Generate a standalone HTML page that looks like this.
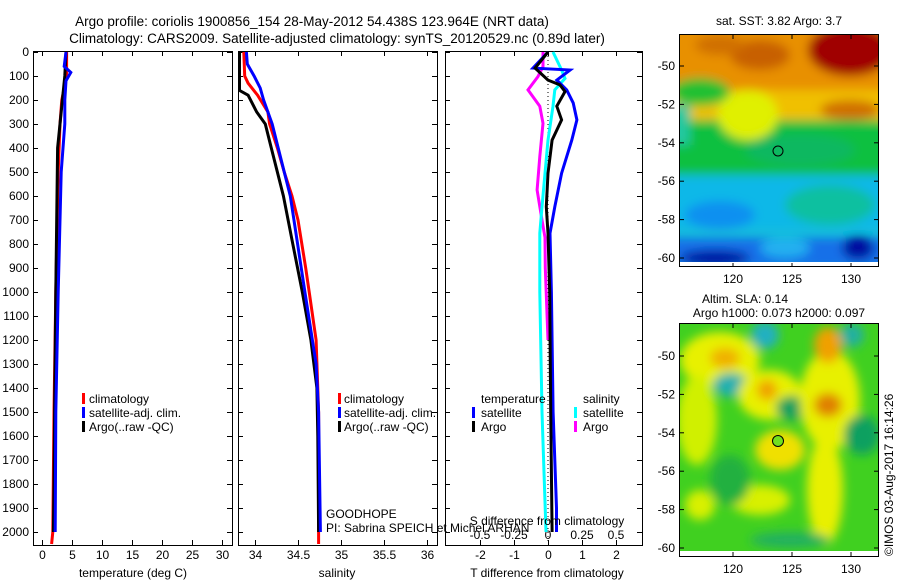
<!DOCTYPE html>
<html><head><meta charset="utf-8"><style>
body{margin:0;background:#fff}
svg{display:block;font-family:"Liberation Sans",sans-serif}
</style></head><body>
<svg id="c" width="900" height="580" viewBox="0 0 900 580">
<defs>
<filter id="bl" x="-20%" y="-20%" width="140%" height="140%"><feGaussianBlur stdDeviation="5"/></filter>
<clipPath id="m1c"><rect x="680" y="35" width="198" height="227"/></clipPath>
<clipPath id="m2c"><rect x="680" y="324" width="198" height="227"/></clipPath>
</defs>
<text x="312" y="26" font-size="13.5" text-anchor="middle">Argo profile: coriolis 1900856_154 28-May-2012 54.438S 123.964E (NRT data)</text>
<text x="337" y="43" font-size="13.5" text-anchor="middle">Climatology: CARS2009. Satellite-adjusted climatology: synTS_20120529.nc (0.89d later)</text>

<!-- SST map -->
<g>
<g clip-path="url(#m1c)">
<rect x="680" y="35" width="198" height="227" fill="#10c0d8"/>
<g filter="url(#bl)">
<rect x="660" y="15" width="240" height="95" fill="#e89000"/>
<rect x="660" y="90" width="240" height="30" fill="#f0c000"/>
<ellipse cx="850" cy="50" rx="42" ry="26" fill="#a00000"/>
<ellipse cx="760" cy="55" rx="30" ry="15" fill="#c86000"/>
<ellipse cx="720" cy="45" rx="25" ry="10" fill="#d07000"/>
<ellipse cx="850" cy="110" rx="30" ry="10" fill="#d07000"/>
<ellipse cx="700" cy="92" rx="30" ry="14" fill="#20c030"/>
<rect x="660" y="120" width="240" height="55" fill="#10c040"/>
<rect x="660" y="105" width="30" height="40" fill="#20c8a0"/>
<ellipse cx="748" cy="115" rx="30" ry="25" fill="#e0f000"/>
<ellipse cx="800" cy="150" rx="55" ry="16" fill="#10b860"/>
<rect x="660" y="175" width="240" height="55" fill="#10b8e8"/>
<ellipse cx="830" cy="205" rx="45" ry="20" fill="#10c0a0"/>
<ellipse cx="720" cy="215" rx="35" ry="14" fill="#1090f0"/>
<rect x="660" y="238" width="240" height="30" fill="#1870e8"/>
<ellipse cx="715" cy="258" rx="35" ry="8" fill="#0010a0"/>
<ellipse cx="858" cy="248" rx="16" ry="12" fill="#0010a0"/>
<ellipse cx="785" cy="248" rx="25" ry="10" fill="#20b0f0"/>
</g>
</g>
<rect x="680" y="262" width="198" height="5" fill="#fff"/>
<rect x="679.5" y="34.5" width="199" height="232" fill="none" stroke="#000"/>
<circle cx="778" cy="151" r="5" fill="none" stroke="#000"/>
</g>
<text x="779" y="25" font-size="12" text-anchor="middle">sat. SST: 3.82 Argo: 3.7</text>

<!-- SLA map -->
<g>
<g clip-path="url(#m2c)">
<rect x="680" y="324" width="198" height="227" fill="#40d020"/>
<g filter="url(#bl)">
<ellipse cx="720" cy="360" rx="40" ry="28" fill="#e8f000"/>
<ellipse cx="725" cy="358" rx="15" ry="10" fill="#f0b000"/>
<ellipse cx="765" cy="335" rx="14" ry="14" fill="#20b0c0"/>
<ellipse cx="731" cy="385" rx="18" ry="12" fill="#20b0b0"/>
<ellipse cx="770" cy="395" rx="32" ry="25" fill="#e8f000"/>
<ellipse cx="767" cy="390" rx="10" ry="10" fill="#f0a000"/>
<ellipse cx="792" cy="408" rx="16" ry="12" fill="#10a060"/>
<ellipse cx="830" cy="400" rx="30" ry="50" fill="#e8f000"/>
<ellipse cx="828" cy="345" rx="14" ry="18" fill="#f0a000"/>
<ellipse cx="828" cy="405" rx="14" ry="12" fill="#e08000"/>
<ellipse cx="852" cy="335" rx="12" ry="12" fill="#20b0a0"/>
<ellipse cx="862" cy="435" rx="18" ry="20" fill="#10a060"/>
<ellipse cx="780" cy="450" rx="25" ry="20" fill="#f0e000"/>
<ellipse cx="697" cy="420" rx="20" ry="45" fill="#d0f000"/>
<ellipse cx="825" cy="490" rx="18" ry="55" fill="#e8f000"/>
<ellipse cx="760" cy="500" rx="30" ry="15" fill="#d8f000"/>
<ellipse cx="700" cy="505" rx="15" ry="15" fill="#d8f000"/>
<ellipse cx="790" cy="540" rx="40" ry="8" fill="#20b060"/>
<ellipse cx="730" cy="480" rx="20" ry="25" fill="#20b040"/>
</g>
</g>
<rect x="680" y="551" width="198" height="5" fill="#fff"/>
<rect x="679.5" y="323.5" width="199" height="233" fill="none" stroke="#000"/>
<circle cx="778" cy="441" r="5.5" fill="#70e020" stroke="#000"/>
</g>
<text x="745" y="303" font-size="12" text-anchor="middle">Altim. SLA: 0.14</text>
<text x="779" y="317" font-size="12" text-anchor="middle">Argo h1000: 0.073 h2000: 0.097</text>
<text transform="translate(893,556) rotate(-90)" font-size="12">©IMOS 03-Aug-2017 16:14:26</text>

<g id="axes"></g>
<g id="lines"></g>

<g font-size="12">
<rect x="82" y="393" width="3" height="11" fill="#f00"/><text x="89" y="403">climatology</text>
<rect x="82" y="407" width="3" height="11" fill="#00f"/><text x="89" y="417">satellite-adj. clim.</text>
<rect x="82" y="421" width="3" height="11" fill="#000"/><text x="89" y="431">Argo(..raw -QC)</text>
</g>
<g font-size="12">
<rect x="338" y="393" width="3" height="11" fill="#f00"/><text x="344" y="403">climatology</text>
<rect x="338" y="407" width="3" height="11" fill="#00f"/><text x="344" y="417">satellite-adj. clim.</text>
<rect x="338" y="421" width="3" height="11" fill="#000"/><text x="344" y="431">Argo(..raw -QC)</text>
</g>
<g font-size="12">
<text x="481" y="403">temperature</text><text x="583" y="403">salinity</text>
<rect x="472" y="407" width="3" height="11" fill="#00f"/><text x="481" y="417">satellite</text>
<rect x="472" y="421" width="3" height="11" fill="#000"/><text x="481" y="431">Argo</text>
<rect x="574" y="407" width="3" height="11" fill="#0ff"/><text x="583" y="417">satellite</text>
<rect x="574" y="421" width="3" height="11" fill="#f0f"/><text x="583" y="431">Argo</text>
</g>
<text x="326" y="518" font-size="12">GOODHOPE</text>
<text x="326" y="532" font-size="12">PI: Sabrina SPEICH et Michel ARHAN</text>
<text x="547" y="525" font-size="12" text-anchor="middle">S difference from climatology</text>
<text x="133" y="577" font-size="12" text-anchor="middle">temperature (deg C)</text>
<text x="337" y="577" font-size="12" text-anchor="middle">salinity</text>
<text x="547" y="577" font-size="12" text-anchor="middle">T difference from climatology</text>
</svg>
<script>
// ---- data ----
const depthTicks=[0,100,200,300,400,500,600,700,800,900,1000,1100,1200,1300,1400,1500,1600,1700,1800,1900,2000];
const tempTicks=[0,5,10,15,20,25,30];
const salTicks=[34,34.5,35,35.5,36];
const tdiffTicks=[-2,-1,0,1,2];
const sdiffTicks=[-0.5,-0.25,0,0.25,0.5];
const sdiffTickLabels=["-0.5","-0.25","0","0.25","0.5"];
const lonTicks=[120,125,130];
const latTicks=[-50,-52,-54,-56,-58,-60];

const tClimDepth=[0,100,150,200,300,500,1000,1500,2000,2050];
const tClimVal=[4.1,4.1,3.7,3.3,3.0,2.7,2.3,2.0,1.8,1.6];
const tSatDepth=[0,60,85,120,200,300,400,500,1000,1500,2000];
const tSatVal=[4.0,3.7,4.8,4.0,3.8,3.8,3.5,3.2,2.7,2.3,2.2];
const tArgoDepth=[0,100,200,400,600,1000,1500,1800,2000];
const tArgoVal=[4.0,3.8,3.4,2.6,2.5,2.3,2.1,2.0,1.9];

const sClimDepth=[0,100,130,180,250,300,400,500,600,700,900,1000,1200,1500,2000,2050];
const sClimVal=[33.87,33.88,33.92,34.03,34.15,34.17,34.26,34.34,34.43,34.50,34.59,34.63,34.71,34.74,34.74,34.74];
const sSatDepth=[0,50,100,150,200,300,400,600,1000,1300,1500,2000];
const sSatVal=[33.90,33.91,33.99,34.06,34.10,34.20,34.27,34.41,34.58,34.71,34.74,34.76];
const sArgoDepth=[0,160,180,250,300,400,600,800,1000,1200,1400,1600,2000];
const sArgoVal=[33.82,33.82,33.92,34.02,34.12,34.19,34.33,34.44,34.55,34.65,34.72,34.73,34.74];

const dtSatDepth=[0,67,75,117,158,212,283,367,505,645,755,1000,1500,1900,2000];
const dtSatVal=[0,-0.44,0.65,0.26,0.55,0.74,0.85,0.7,0.4,0.2,0.06,0.1,0.15,0.25,0.25];
const dtArgoDepth=[0,67,117,137,165,226,283,367,505,645,755,1000,1500,2000];
const dtArgoVal=[0,-0.38,0,0.35,0.5,0.26,0.4,0.12,0,-0.05,0,0.05,0.08,0.12];
const dsSatDepth=[0,75,110,158,226,367,505,645,755,1000,1500,2000];
const dsSatVal=[0.037,0.10,0.125,0.05,0.037,0,-0.022,-0.044,-0.06,-0.06,-0.044,-0.015];
const dsArgoDepth=[0,61,103,158,226,297,436,575,700,773,900,1200];
const dsArgoVal=[-0.037,-0.037,-0.074,-0.147,-0.06,-0.037,-0.06,-0.08,-0.044,-0.022,-0.02,0];

// ---- scales ----
const Y0=52, PX_PER_M=0.24, PBOT=545, PTOP=51;
const yS=d=>Y0+d*PX_PER_M;
const xT=v=>42+6*v;
const xS=v=>255+86*(v-34);
const xDT=v=>548+34*v;
const xDS=v=>548+136*v;
const xLon1=v=>733+11.8*(v-120);
const yLat1=v=>66+19.2*(-50-v);
const yLat2=v=>356+19.2*(-50-v);
const panels=[[33,232],[238,437],[445,642]];
const NS="http://www.w3.org/2000/svg";
const ax=document.getElementById('axes'), ln=document.getElementById('lines');
function mk(tag,attrs,parent){const e=document.createElementNS(NS,tag);for(const k in attrs)e.setAttribute(k,attrs[k]);parent.appendChild(e);return e;}

panels.forEach((p,i)=>{
  const r=mk('rect',{x:p[0]+0.5,y:PTOP+0.5,width:p[1]-p[0],height:PBOT-PTOP,fill:'none',stroke:'#000'},ax);
  
  
  depthTicks.forEach(d=>{
    const y=yS(d)+0.5;
    mk('line',{x1:p[0],x2:p[0]+5,y1:y,y2:y,stroke:'#000'},ax);
    mk('line',{x1:p[1]-5,x2:p[1],y1:y,y2:y,stroke:'#000'},ax);
  });
});
depthTicks.forEach(d=>{
  const t=mk('text',{x:29,y:yS(d)+4,'font-size':12,'text-anchor':'end'},ax);
  t.textContent=d;
  
  
});
function xticks(ticks,fx,labels,ly){
  ticks.forEach((v,k)=>{
    const x=Math.round(fx(v))+0.5;
    mk('line',{x1:x,x2:x,y1:PBOT-5,y2:PBOT,stroke:'#000'},ax);
    mk('line',{x1:x,x2:x,y1:PTOP,y2:PTOP+5,stroke:'#000'},ax);
    const t=mk('text',{x:x,y:ly,'font-size':12,'text-anchor':'middle'},ax);
    t.textContent=labels?labels[k]:v;
    
    
  });
}
xticks(tempTicks,xT,null,559);
xticks(salTicks,xS,null,559);
xticks(tdiffTicks,xDT,null,559);
sdiffTicks.forEach((v,k)=>{
  const t=mk('text',{x:xDS(v),y:539,'font-size':12,'text-anchor':'middle'},ax);
  t.textContent=sdiffTickLabels[k];
  
  
});
mk('line',{x1:xDT(0),x2:xDT(0),y1:yS(0),y2:yS(2050),stroke:'#000','stroke-dasharray':'1,3'},ax);
[[35,262,283,yLat1],[324,551,573,yLat2]].forEach(m=>{
  lonTicks.forEach(v=>{
    const x=xLon1(v);
    mk('line',{x1:x,x2:x,y1:m[0],y2:m[0]+4,stroke:'#000'},ax);
    mk('line',{x1:x,x2:x,y1:m[1]+1,y2:m[1]+5,stroke:'#000'},ax);
    const t=mk('text',{x:x,y:m[2],'font-size':12,'text-anchor':'middle'},ax);
    t.textContent=v;
    
    
  });
  latTicks.forEach(v=>{
    const y=m[3](v);
    mk('line',{x1:680,x2:684,y1:y,y2:y,stroke:'#000'},ax);
    mk('line',{x1:874,x2:878,y1:y,y2:y,stroke:'#000'},ax);
    const t=mk('text',{x:675,y:y+4,'font-size':12,'text-anchor':'end'},ax);
    t.textContent=v;
    
    
  });
});
function line(depths,vals,fx,color,name){
  const pts=depths.map((d,k)=>fx(vals[k]).toFixed(1)+','+yS(d).toFixed(1)).join(' ');
  const e=mk('polyline',{points:pts,fill:'none',stroke:color,'stroke-width':3},ln);
  
  
}
line(tClimDepth,tClimVal,xT,'#f00','temp-climatology-line');
line(tArgoDepth,tArgoVal,xT,'#000','temp-argo-line');
line(tSatDepth,tSatVal,xT,'#00f','temp-satellite-line');
line(sClimDepth,sClimVal,xS,'#f00','salinity-climatology-line');
line(sArgoDepth,sArgoVal,xS,'#000','salinity-argo-line');
line(sSatDepth,sSatVal,xS,'#00f','salinity-satellite-line');
line(dsArgoDepth,dsArgoVal,xDS,'#f0f','s-diff-argo-line');
line(dsSatDepth,dsSatVal,xDS,'#0ff','s-diff-satellite-line');
line(dtSatDepth,dtSatVal,xDT,'#00f','t-diff-satellite-line');
line(dtArgoDepth,dtArgoVal,xDT,'#000','t-diff-argo-line');
</script>
</body></html>
